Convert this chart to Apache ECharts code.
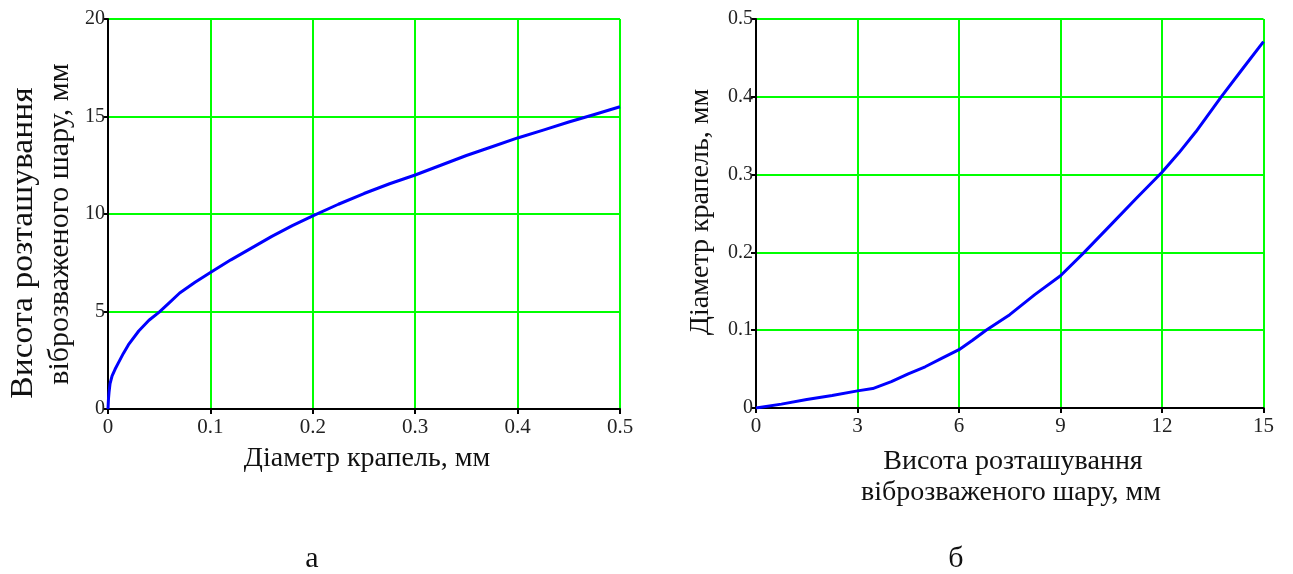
<!DOCTYPE html>
<html>
<head>
<meta charset="utf-8">
<script src="https://cdn.jsdelivr.net/npm/echarts@6/dist/echarts.min.js"></script>
<style>
html,body{margin:0;padding:0;background:#fff;}
#c{width:1277px;height:574px;}
</style>
</head>
<body>
<div id="c"></div>
<script>
// Chart а: height of vibro-suspended layer (mm) vs droplet diameter (mm)
const aX = [0, 0.0005, 0.001, 0.002, 0.004, 0.007, 0.01, 0.015, 0.02, 0.03, 0.04, 0.05, 0.06, 0.07, 0.085, 0.1, 0.12, 0.14, 0.16, 0.18, 0.2, 0.225, 0.25, 0.275, 0.3, 0.325, 0.35, 0.375, 0.4, 0.425, 0.45, 0.475, 0.5];
const aY = [0, 0.55, 0.85, 1.3, 1.7, 2.05, 2.35, 2.85, 3.3, 4.0, 4.55, 4.97, 5.45, 5.95, 6.5, 7.0, 7.65, 8.25, 8.85, 9.4, 9.9, 10.5, 11.05, 11.55, 12.0, 12.5, 13.0, 13.45, 13.9, 14.3, 14.72, 15.1, 15.5];
// Chart б: droplet diameter (mm) vs height of layer (mm)
const bX = [0, 0.75, 1.5, 2.25, 3, 3.45, 4, 4.5, 5, 5.5, 6, 6.4, 6.8, 7.5, 8.25, 9, 9.7, 10.5, 11.25, 12, 12.5, 13, 13.75, 14.4, 15];
const bY = [0, 0.005, 0.011, 0.016, 0.022, 0.025, 0.034, 0.044, 0.053, 0.064, 0.075, 0.087, 0.1, 0.12, 0.146, 0.17, 0.2, 0.236, 0.27, 0.303, 0.328, 0.355, 0.4, 0.437, 0.471];

const aXTicks = {min: 0, max: 0.5, interval: 0.1};
const aYTicks = {min: 0, max: 20, interval: 5};
const bXTicks = {min: 0, max: 15, interval: 3};
const bYTicks = {min: 0, max: 0.5, interval: 0.1};

const titleAX = 'Діаметр крапель, мм';
const titleAY1 = 'Висота розташування';
const titleAY2 = 'віброзваженого шару, мм';
const titleBY = 'Діаметр крапель, мм';
const titleBX1 = 'Висота розташування';
const titleBX2 = 'віброзваженого шару, мм';
const labelA = 'а';
const labelB = 'б';

const FONT = '"Liberation Serif", "Times New Roman", serif';
const pairs = (xs, ys) => xs.map((x, i) => [x, ys[i]]);

function axisCfg(idx, t, isX) {
  return {
    type: 'value', gridIndex: idx, min: t.min, max: t.max, interval: t.interval,
    axisLine: {show: true, onZero: false, lineStyle: {color: '#000', width: 2}},
    axisTick: {show: true, length: 5, lineStyle: {color: '#000', width: 2}},
    axisLabel: {color: '#222', fontFamily: FONT, fontSize: isX ? 21 : 20, margin: isX ? 8 : 3,
      formatter: v => String(+v.toFixed(3))},
    splitLine: {show: true, showMinLine: true, showMaxLine: true, lineStyle: {color: '#00ff00', width: 2}}
  };
}

const chart = echarts.init(document.getElementById('c'), null, {renderer: 'canvas'});
const txt = (text, x, y, size, rot, sx) => ({
  type: 'text', x: x, y: y, rotation: rot || 0, scaleX: sx || 1,
  style: {text: text, fill: '#111', font: size + 'px ' + FONT, textAlign: 'center', textVerticalAlign: 'middle'}
});
chart.setOption({
  backgroundColor: '#fff',
  animation: false,
  grid: [
    {left: 108, top: 19, width: 512, height: 390},
    {left: 756, top: 19, width: 511, height: 389}
  ],
  xAxis: [axisCfg(0, aXTicks, true), axisCfg(1, bXTicks, true)],
  yAxis: [axisCfg(0, aYTicks, false), axisCfg(1, bYTicks, false)],
  series: [
    {type: 'line', xAxisIndex: 0, yAxisIndex: 0, data: pairs(aX, aY), showSymbol: false,
     smooth: false, lineStyle: {color: '#0000ff', width: 3, join: 'round'}},
    {type: 'line', xAxisIndex: 1, yAxisIndex: 1, data: pairs(bX, bY), showSymbol: false,
     smooth: false, lineStyle: {color: '#0000ff', width: 3, join: 'round'}}
  ],
  graphic: [
    txt(titleAX, 367, 459, 28),
    txt(titleAY1, 24, 243, 32, Math.PI / 2, 1.05),
    txt(titleAY2, 60, 224, 30, Math.PI / 2),
    txt(titleBY, 701, 212, 28, Math.PI / 2),
    txt(titleBX1, 1013, 462, 28),
    txt(titleBX2, 1011, 493, 28),
    txt(labelA, 312, 559, 30),
    txt(labelB, 956, 559, 30)
  ]
});
</script>
</body>
</html>
